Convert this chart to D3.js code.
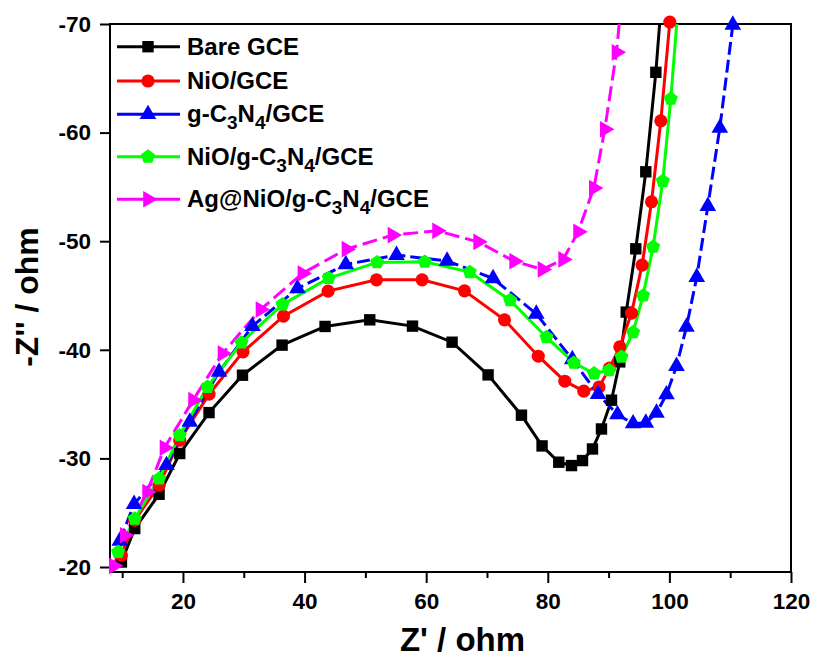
<!DOCTYPE html>
<html>
<head>
<meta charset="utf-8">
<script src="https://cdn.jsdelivr.net/npm/d3@7"></script>
<style>
  body { margin: 0; background: #fff; }
  svg text { font-family: Arial, "Liberation Sans", sans-serif; font-weight: bold; }
</style>
</head>
<body>
<div id="chart"></div>
<script>
// Nyquist data (Z' in ohm, -Z'' shown as negative values)
var bareX = [9.88, 12.07, 16.07, 19.47, 24.29, 29.79, 36.30, 43.37, 50.72, 57.75, 64.26, 70.18, 75.67, 79.06, 81.81, 83.90, 85.71, 87.35, 88.83, 90.48, 91.84, 92.90, 94.47, 96.12, 97.77, 99.10];
var bareY = [-20.46, -23.54, -26.70, -30.45, -34.22, -37.66, -40.43, -42.15, -42.76, -42.18, -40.70, -37.69, -33.98, -31.15, -29.65, -29.34, -29.80, -30.87, -32.71, -35.36, -38.89, -43.47, -49.30, -56.39, -65.55, -75.00];

var nioX = [9.88, 12.07, 16.07, 19.47, 24.29, 29.88, 36.53, 43.87, 51.83, 59.33, 66.30, 72.88, 78.44, 82.80, 85.92, 88.44, 90.15, 91.84, 93.77, 95.51, 97.06, 98.59, 100.07];
var nioY = [-21.08, -24.30, -27.53, -31.67, -35.91, -39.81, -43.10, -45.40, -46.44, -46.44, -45.43, -42.76, -39.41, -37.11, -36.19, -36.58, -38.31, -40.27, -43.37, -47.80, -53.63, -61.09, -70.18];

var gcnX = [9.61, 11.96, 17.29, 21.12, 25.94, 31.43, 38.83, 46.78, 55.12, 63.44, 71.00, 78.11, 84.03, 88.27, 91.46, 94.03, 96.12, 97.88, 99.52, 101.17, 102.81, 104.50, 106.32, 108.29, 110.43];
var gcnY = [-22.40, -25.78, -29.37, -33.36, -37.97, -42.18, -45.65, -47.86, -48.72, -48.19, -46.57, -43.31, -39.11, -35.91, -34.04, -33.21, -33.27, -34.19, -35.88, -38.49, -42.11, -46.69, -53.23, -60.42, -69.91];

var niogcnX = [9.33, 12.07, 16.07, 19.47, 24.03, 29.62, 36.37, 43.98, 51.92, 59.77, 67.17, 73.80, 79.79, 84.28, 87.62, 90.08, 92.12, 94.03, 95.67, 97.32, 98.91, 100.23, 101.60];
var niogcnY = [-21.38, -24.45, -28.14, -32.13, -36.58, -40.67, -44.18, -46.60, -48.05, -48.10, -47.15, -44.57, -41.16, -38.80, -37.82, -38.12, -39.35, -41.62, -44.99, -49.48, -55.54, -63.12, -72.80];

var agX = [8.62, 10.43, 14.10, 16.96, 21.66, 26.50, 32.75, 39.65, 46.89, 54.46, 61.79, 68.54, 74.46, 79.13, 82.52, 84.98, 87.57, 89.37, 91.30, 92.00];
var agY = [-20.11, -22.92, -26.91, -30.98, -35.36, -39.66, -43.71, -47.03, -49.27, -50.56, -50.96, -49.94, -48.16, -47.40, -48.32, -50.86, -54.89, -60.30, -67.39, -71.50];

var xTicks = [20, 40, 60, 80, 100, 120];
var xMinorTicks = [10, 30, 50, 70, 90, 110];
var yTicks = [-70, -60, -50, -40, -30, -20];

// pentagon marker for the NiO/g-C3N4 curve
var symbolPentagon = {
  draw: function(context, size) {
    var r = Math.sqrt(size / 2.378);
    for (var i = 0; i < 5; i++) {
      var a = -Math.PI / 2 + i * 2 * Math.PI / 5;
      if (i === 0) context.moveTo(r * Math.cos(a), r * Math.sin(a));
      else context.lineTo(r * Math.cos(a), r * Math.sin(a));
    }
    context.closePath();
  }
};

var series = [
  {name: "Bare GCE", xs: bareX, ys: bareY, color: "#000000", symbol: d3.symbolSquare, size: 130, rotate: 0, dash: null},
  {name: "NiO/GCE", xs: nioX, ys: nioY, color: "#ff0000", symbol: d3.symbolCircle, size: 135, rotate: 0, dash: null},
  {name: "g-C|3|N|4|/GCE", xs: gcnX, ys: gcnY, color: "#0000ff", symbol: d3.symbolTriangle, size: 120, rotate: 0, dash: "13,5"},
  {name: "NiO/g-C|3|N|4|/GCE", xs: niogcnX, ys: niogcnY, color: "#00ff00", symbol: symbolPentagon, size: 130, rotate: 0, dash: null},
  {name: "Ag@NiO/g-C|3|N|4|/GCE", xs: agX, ys: agY, color: "#ff00ff", symbol: d3.symbolTriangle, size: 120, rotate: 90, dash: "15,6"}
];

var width = 816, height = 657;
var plot = {left: 110, right: 791, top: 24, bottom: 572};

var svg = d3.select("#chart")
    .append("svg")
    .attr("width", width)
    .attr("height", height);

var x = d3.scaleLinear()
    .domain([8, 120])
    .range([plot.left, plot.right]);

var y = d3.scaleLinear()
    .domain([-70, -19.54])
    .range([plot.top, plot.bottom]);

svg.append("clipPath")
    .attr("id", "plotClip")
  .append("rect")
    .attr("x", plot.left)
    .attr("y", plot.top)
    .attr("width", plot.right - plot.left)
    .attr("height", plot.bottom - plot.top);

// axes
var xAxis = svg.append("g")
    .attr("transform", "translate(0," + plot.bottom + ")")
    .call(d3.axisBottom(x).tickValues(xTicks).tickSize(11).tickSizeOuter(0).tickPadding(10)
        .tickFormat(function(d) { return String(d); }));

svg.append("g")
    .attr("transform", "translate(0," + plot.bottom + ")")
    .call(d3.axisBottom(x).tickValues(xMinorTicks).tickSize(6).tickSizeOuter(0).tickFormat(""))
    .select(".domain").remove();

var yAxis = svg.append("g")
    .attr("transform", "translate(" + plot.left + ",0)")
    .call(d3.axisLeft(y).tickValues(yTicks).tickSize(10).tickSizeOuter(0).tickPadding(9)
        .tickFormat(function(d) { return String(d); }));

svg.selectAll(".tick line").attr("stroke", "#000").attr("stroke-width", 2);
svg.selectAll(".domain").remove();
svg.selectAll(".tick text")
    .attr("fill", "#000")
    .style("font-size", "22.5px");

// frame
svg.append("rect")
    .attr("x", plot.left)
    .attr("y", plot.top)
    .attr("width", plot.right - plot.left)
    .attr("height", plot.bottom - plot.top)
    .attr("fill", "none")
    .attr("stroke", "#000")
    .attr("stroke-width", 2);

// curves
var line = d3.line()
    .x(function(d) { return x(d[0]); })
    .y(function(d) { return y(d[1]); });

var curves = svg.append("g").attr("clip-path", "url(#plotClip)");

series.forEach(function(s) {
  var pts = s.xs.map(function(v, i) { return [v, s.ys[i]]; });

  curves.append("path")
      .datum(pts)
      .attr("d", line)
      .attr("fill", "none")
      .attr("stroke", s.color)
      .attr("stroke-width", 3)
      .attr("stroke-dasharray", s.dash);

  svg.append("g").selectAll("path")
      .data(pts.filter(function(d) { return d[1] >= -70.5; }))
      .enter()
      .append("path")
      .attr("d", d3.symbol().type(s.symbol).size(s.size))
      .attr("transform", function(d) {
        return "translate(" + x(d[0]) + "," + y(d[1]) + ") rotate(" + s.rotate + ")";
      })
      .attr("fill", s.color);
});

// legend
var legendRows = [46.7, 81, 114.3, 156.7, 199.3];
var legend = svg.append("g");

series.forEach(function(s, i) {
  var ly = legendRows[i];
  legend.append("line")
      .attr("x1", 117).attr("x2", 180)
      .attr("y1", ly).attr("y2", ly)
      .attr("stroke", s.color)
      .attr("stroke-width", 3);
  legend.append("path")
      .attr("d", d3.symbol().type(s.symbol).size(s.size))
      .attr("transform", "translate(148," + ly + ") rotate(" + s.rotate + ")")
      .attr("fill", s.color);

  var t = legend.append("text")
      .attr("x", 187)
      .attr("y", ly + 8)
      .style("font-size", "24px")
      .attr("fill", "#000");
  // parts between | are subscripts
  s.name.split("|").forEach(function(part, j) {
    if (!part) return;
    var sub = j % 2 === 1;
    t.append("tspan")
        .text(part)
        .attr("dy", sub ? 7 : (j > 0 ? -7 : 0))
        .style("font-size", sub ? "19px" : "24px");
  });
});

// axis titles
svg.append("text")
    .attr("x", (plot.left + plot.right) / 2 + 12)
    .attr("y", 651)
    .attr("text-anchor", "middle")
    .style("font-size", "33px")
    .text("Z' / ohm");

svg.append("text")
    .attr("transform", "translate(38," + 297 + ") rotate(-90)")
    .attr("text-anchor", "middle")
    .style("font-size", "32px")
    .text("-Z'' / ohm");
</script>
</body>
</html>
